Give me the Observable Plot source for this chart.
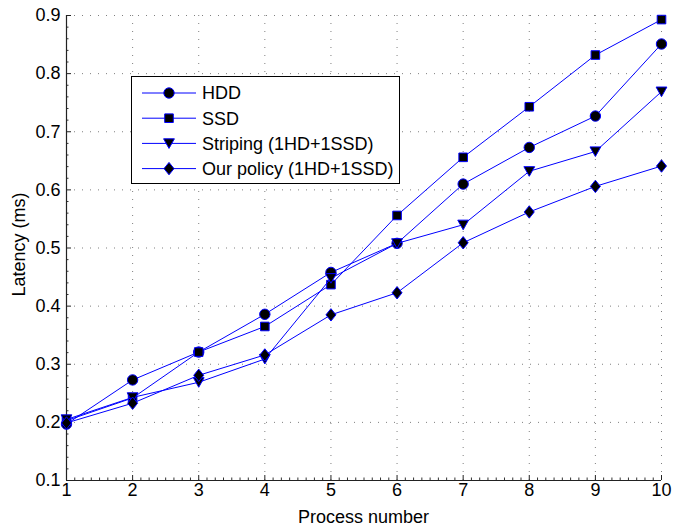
<!DOCTYPE html>
<html>
<head>
<meta charset="utf-8">
<script src="https://cdn.jsdelivr.net/npm/d3@7"></script>
<script src="https://cdn.jsdelivr.net/npm/@observablehq/plot@0.6"></script>
<style>
  html, body { margin: 0; padding: 0; background: white; }
</style>
</head>
<body>
<div id="chart"></div>
<script>
// ---- Data ----
const processes = [1, 2, 3, 4, 5, 6, 7, 8, 9, 10];
const hdd      = [0.197, 0.273, 0.321, 0.386, 0.458, 0.508, 0.610, 0.673, 0.727, 0.851];
const ssd      = [0.203, 0.242, 0.321, 0.365, 0.437, 0.556, 0.656, 0.743, 0.832, 0.893];
const striping = [0.205, 0.243, 0.269, 0.309, 0.448, 0.508, 0.540, 0.632, 0.666, 0.769];
const policy   = [0.199, 0.233, 0.281, 0.316, 0.385, 0.423, 0.509, 0.562, 0.606, 0.641];
const seriesNames = ["HDD", "SSD", "Striping (1HD+1SSD)", "Our policy (1HD+1SSD)"];
const xTicks = [1, 2, 3, 4, 5, 6, 7, 8, 9, 10];
const yTicks = [0.1, 0.2, 0.3, 0.4, 0.5, 0.6, 0.7, 0.8, 0.9];
const xLabel = "Process number";
const yLabel = "Latency (ms)";

// minor ticks
const xMinor = d3.range(1, 10.0001, 0.125).filter(v => Math.abs(v - Math.round(v)) > 1e-6);
const yMinor = d3.range(0.1, 0.9001, 0.02).filter(v => Math.abs(v * 10 - Math.round(v * 10)) > 1e-6);

// ---- MATLAB-like marker shapes ----
const symCircle = { draw(c) { c.moveTo(5.2, 0); c.arc(0, 0, 5.2, 0, 2 * Math.PI); } };
const symSquare = { draw(c) { c.moveTo(-4.3, -4.3); c.lineTo(4.3, -4.3); c.lineTo(4.3, 4.3); c.lineTo(-4.3, 4.3); c.closePath(); } };
const symTriDown = { draw(c) { c.moveTo(-5.4, -4.6); c.lineTo(5.4, -4.6); c.lineTo(0, 5.0); c.closePath(); } };
const symDiamond = { draw(c) { c.moveTo(0, -6.2); c.lineTo(5.0, 0); c.lineTo(0, 6.2); c.lineTo(-5.0, 0); c.closePath(); } };
const symbols = [symCircle, symSquare, symTriDown, symDiamond];

const seriesValues = [hdd, ssd, striping, policy];
const tables = seriesValues.map(vals => processes.map((p, i) => ({ x: p, y: vals[i] })));

const W = 675, H = 532;
const mL = 66, mR = 14, mT = 15, mB = 52;
const fw = W - mL - mR, fh = H - mT - mB;
const FS = 18;

const marks = [
  Plot.gridX(xTicks, { stroke: "#000", strokeOpacity: 0.5, strokeDasharray: "1,7", strokeWidth: 1 }),
  Plot.gridY(yTicks, { stroke: "#000", strokeOpacity: 0.5, strokeDasharray: "1,7", strokeWidth: 1 }),
  Plot.axisX(xTicks, { tickSize: 0, tickPadding: 3, label: null, fontSize: FS }),
  Plot.axisY(yTicks, { tickSize: 0, tickPadding: 6, label: null, fontSize: FS, tickFormat: d => d.toFixed(1) }),
  Plot.tickX(xMinor, { x: d => d, insetTop: fh - 2.5, stroke: "#333" }),
  Plot.tickY(yMinor, { y: d => d, insetRight: fw - 2.5, stroke: "#333" }),
  Plot.tickX(xTicks, { x: d => d, insetTop: fh - 5, stroke: "#222" }),
  Plot.tickY(yTicks, { y: d => d, insetRight: fw - 5, stroke: "#222" }),
  Plot.ruleY([0.1], { stroke: "#222", strokeWidth: 1.2 }),
  Plot.ruleX([1], { stroke: "#222", strokeWidth: 1.2 })
];
tables.forEach((t, i) => {
  marks.push(Plot.line(t, { x: "x", y: "y", stroke: "#0000ff", strokeWidth: 1 }));
  marks.push(Plot.dot(t, { x: "x", y: "y", symbol: symbols[i], fill: "#000", stroke: "#0000ff", strokeWidth: 1 }));
});

const svg = Plot.plot({
  width: W, height: H,
  marginLeft: mL, marginRight: mR, marginTop: mT, marginBottom: mB,
  x: { domain: [1, 10] },
  y: { domain: [0.1, 0.9] },
  style: { fontFamily: "'Liberation Sans', Arial, Helvetica, sans-serif", fontSize: FS + "px", background: "white", color: "#000" },
  marks
});

const root = d3.select(svg);
const font = "'Liberation Sans', Arial, Helvetica, sans-serif";
// axis labels
root.append("text").attr("x", mL + fw / 2).attr("y", 523).attr("text-anchor", "middle")
  .attr("font-family", font).style("font-size", FS + "px").attr("fill", "#000").text(xLabel);
root.append("text").attr("transform", `translate(25,${mT + fh / 2 - 3}) rotate(-90)`).attr("text-anchor", "middle")
  .attr("font-family", font).style("font-size", FS + "px").attr("fill", "#000").text(yLabel);

// legend
const lg = root.append("g");
lg.append("rect").attr("x", 131.5).attr("y", 76.5).attr("width", 268).attr("height", 107)
  .attr("fill", "white").attr("stroke", "#000").attr("stroke-width", 1);
seriesNames.forEach((name, i) => {
  const cy = 93 + i * 25.2;
  lg.append("line").attr("x1", 142).attr("x2", 196).attr("y1", cy).attr("y2", cy)
    .attr("stroke", "#0000ff").attr("stroke-width", 1);
  lg.append("path").attr("transform", `translate(169,${cy})`).attr("d", d3.symbol().type(symbols[i])())
    .attr("fill", "#000").attr("stroke", "#0000ff").attr("stroke-width", 1);
  lg.append("text").attr("x", 202).attr("y", cy + 6.3).attr("text-anchor", "start").attr("font-family", font)
    .style("font-size", FS + "px").attr("fill", "#000").text(name);
});

document.getElementById("chart").appendChild(svg);
</script>
</body>
</html>
